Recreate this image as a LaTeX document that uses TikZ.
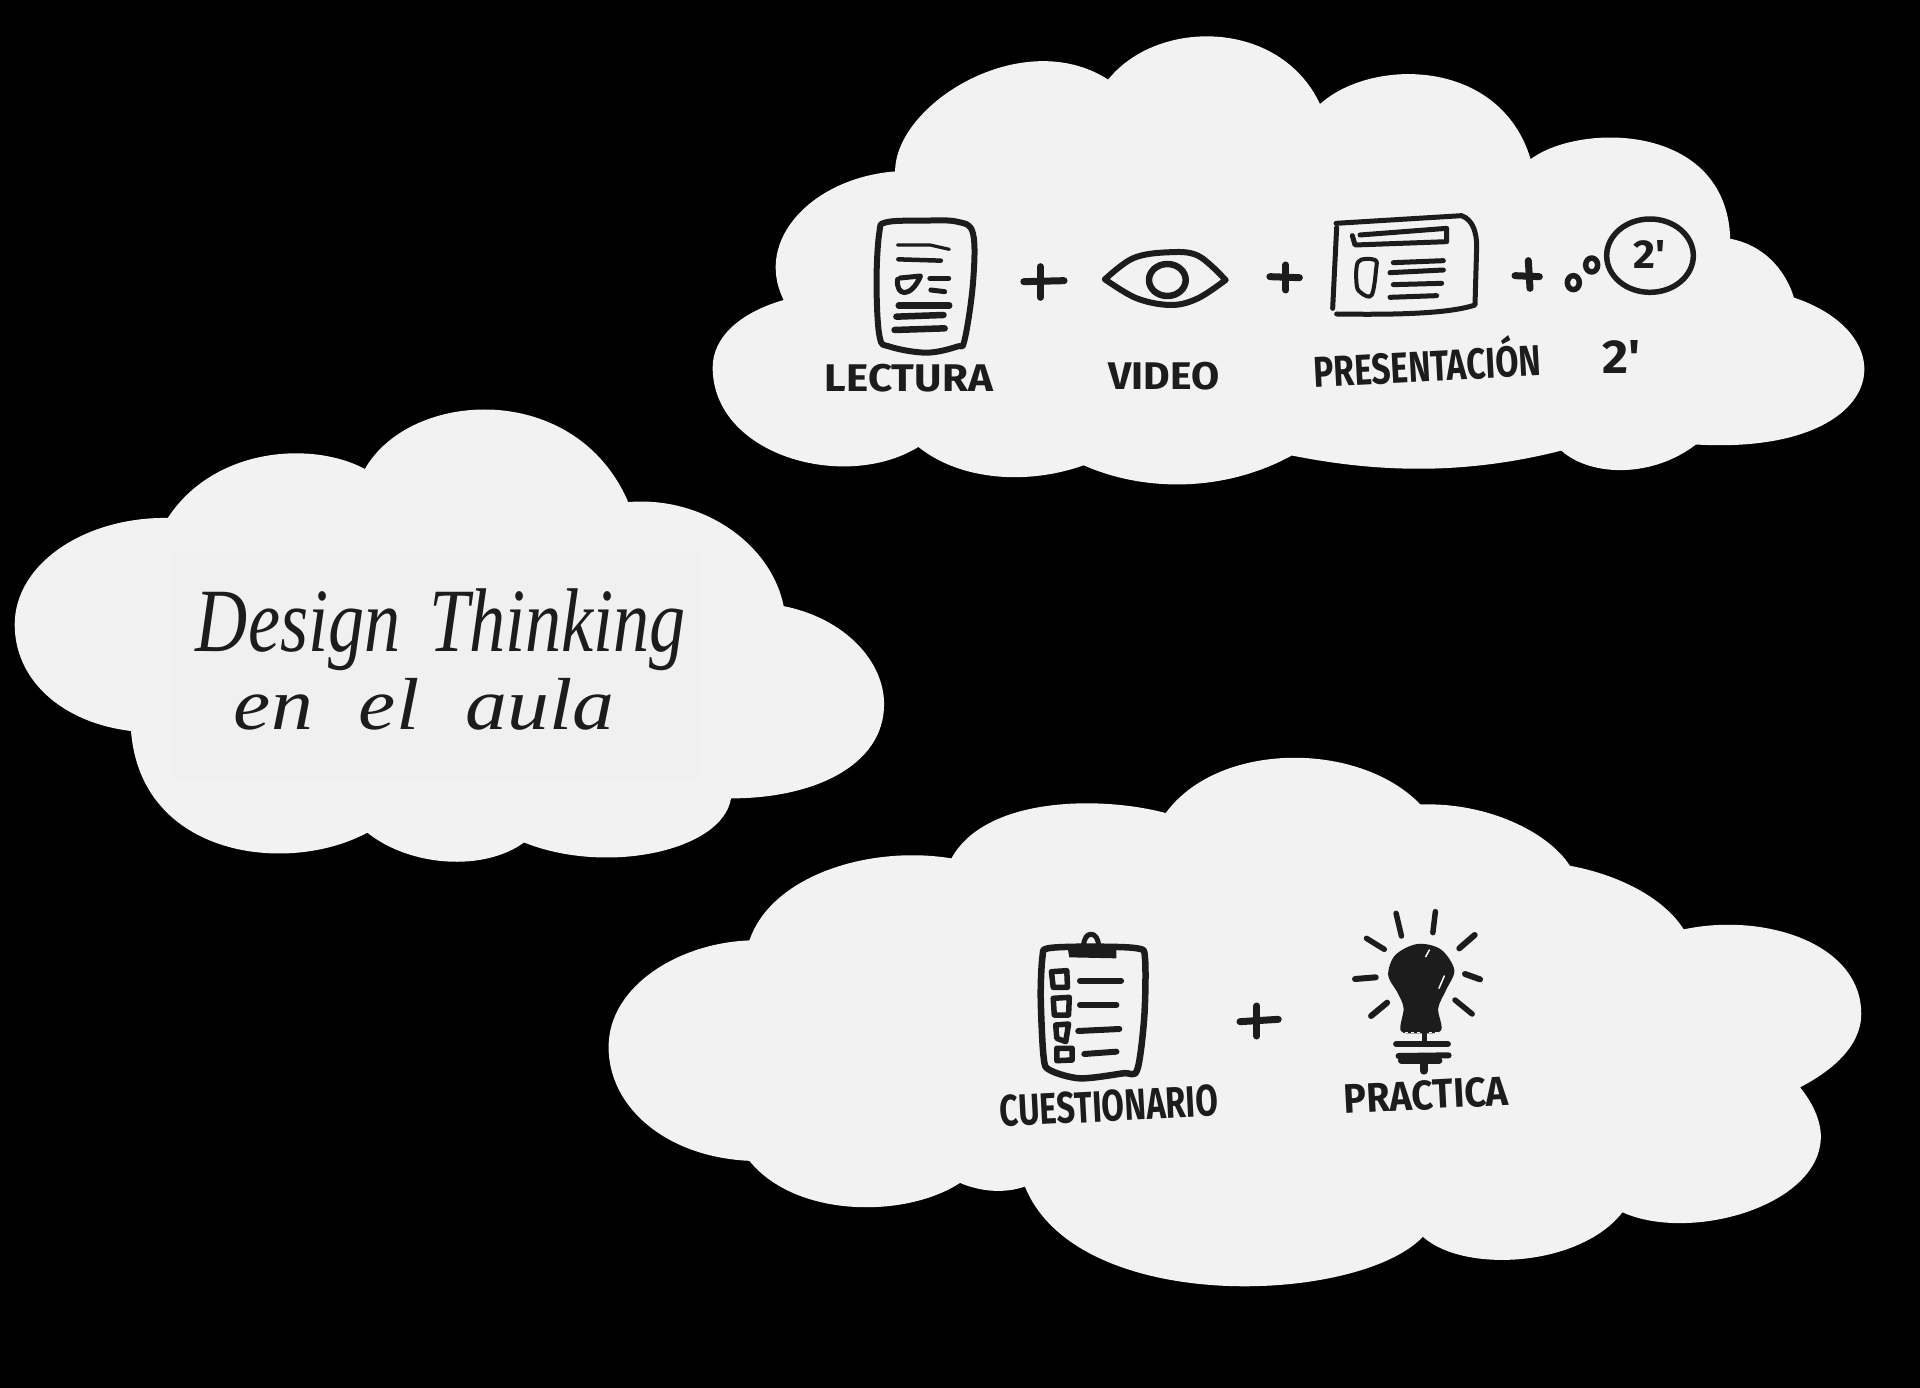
\documentclass[tikz,border=0pt]{standalone}
\usepackage{graphicx}
\usepackage{fontspec}
\newfontfamily\lblfont{Fira Sans}
\newfontfamily\handfont{Liberation Serif}
\definecolor{cloudc}{HTML}{F2F2F2}
\definecolor{patchc}{HTML}{F0F0F0}
\definecolor{ink}{HTML}{1C1C1C}
\newcommand{\fitbox}[3]{\resizebox*{#1pt}{#2pt}{#3}}
\tikzset{
  cloudshape/.style={fill=cloudc,draw=none},
  inkline/.style={draw=ink,line width=#1,line cap=round,line join=round},
  inkline/.default=5pt,
  lab/.style={text=ink,inner sep=0pt,outer sep=0pt,font=\lblfont\bfseries},
  hand/.style={text=ink,inner sep=0pt,outer sep=0pt,font=\handfont\itshape},
  zoomthree/.style={x=0.33333pt,y=-0.33333pt},
  zoomone/.style={x=0.38265pt,y=-0.33333pt},
  zoomfour/.style={x=0.35714pt,y=-0.33333pt},
  disp/.style={x=1.2245pt,y=-1.2245pt}
}
\begin{document}
\begin{tikzpicture}[x=1pt,y=-1pt]
\useasboundingbox (0,0) rectangle (1920,1388);
\fill[black] (0,0) rectangle (1920,1388);

\begin{scope}[disp]
% top right cloud
\fill[cloudshape] (731,140)
 .. controls (731,85) and (835,20) .. (905,65)
 .. controls (945,15) and (1045,15) .. (1078,85)
 .. controls (1120,47) and (1225,47) .. (1250,130)
 .. controls (1290,100) and (1410,100) .. (1413,195)
 .. controls (1440,200) and (1458,220) .. (1465,243)
 .. controls (1560,275) and (1540,372) .. (1385,363)
 .. controls (1350,390) and (1300,390) .. (1275,368)
 .. controls (1200,387) and (1130,387) .. (1055,372)
 .. controls (1000,402) and (935,402) .. (885,380)
 .. controls (840,396) and (785,393) .. (750,365)
 .. controls (690,402) and (582,372) .. (582,300)
 .. controls (582,275) and (605,255) .. (640,245)
 .. controls (615,195) and (665,145) .. (731,140)
 -- cycle;
% left cloud
\fill[cloudshape] (137,423)
 .. controls (175,365) and (255,360) .. (298,383)
 .. controls (335,318) and (470,310) .. (513,410)
 .. controls (575,405) and (630,445) .. (640,495)
 .. controls (690,505) and (722,540) .. (722,575)
 .. controls (722,625) and (665,652) .. (597,652)
 .. controls (590,695) and (495,715) .. (428,688)
 .. controls (395,712) and (335,708) .. (300,680)
 .. controls (235,715) and (115,700) .. (107,597)
 .. controls (50,590) and (12,555) .. (12,510)
 .. controls (12,460) and (70,422) .. (137,423)
 -- cycle;
% bottom cloud
\fill[cloudshape] (612,768)
 .. controls (630,715) and (710,690) .. (777,701)
 .. controls (805,650) and (900,650) .. (952,664)
 .. controls (995,605) and (1110,605) .. (1160,657)
 .. controls (1215,655) and (1265,680) .. (1282,707)
 .. controls (1325,715) and (1360,735) .. (1375,759)
 .. controls (1440,745) and (1520,770) .. (1520,828)
 .. controls (1520,855) and (1495,875) .. (1470,888)
 .. controls (1480,900) and (1487,915) .. (1487,928)
 .. controls (1487,985) and (1380,1015) .. (1325,990)
 .. controls (1290,1035) and (1195,1040) .. (1162,1010)
 .. controls (1110,1065) and (880,1075) .. (837,969)
 .. controls (820,975) and (800,973) .. (784,966)
 .. controls (740,995) and (650,995) .. (612,948)
 .. controls (545,945) and (497,905) .. (497,855)
 .. controls (497,805) and (555,770) .. (612,768)
 -- cycle;
\end{scope}

% patch behind the title
\fill[patchc] (172,553) rectangle (700,779);
\node[hand] (title1) at (441,630) {\fitbox{490}{82}{Design\hspace{.15em} Thinking}};
\node[hand] (title2) at (424,704) {\fitbox{380}{52}{en\hspace{.3em} el\hspace{.3em} aula}};

% top row: lecture and eye
\begin{scope}[shift={(800,190)},zoomone]
\draw[inkline=6pt] plot[smooth cycle,tension=0.6] coordinates {(225,97) (320,92) (410,95) (452,130) (452,280) (430,450) (410,470) (330,488) (235,470) (208,440) (200,280) (207,130)};
\draw[inkline=3.2pt] (255,165) -- (340,165) -- (390,178);
\draw[inkline=4.5pt] (257,208) -- (368,212);
\draw[inkline=5pt] (255,268) .. controls (250,320) and (290,325) .. (315,258) -- (262,264);
\draw[inkline=5.5pt] (340,265) -- (388,265);
\draw[inkline=5pt] (342,300) -- (378,305);
\draw[inkline=6.5pt] (258,347) -- (390,347);
\draw[inkline=6.5pt] (252,380) -- (375,375);
\draw[inkline=6.5pt] (247,420) -- (378,415);
\draw[inkline=7pt] (585,275) -- (690,272);
\draw[inkline=7pt] (628,230) -- (628,322);
\draw[inkline=6pt] plot[smooth,tension=0.6] coordinates {(797,268) (870,205) (960,187) (1040,197) (1112,270)};
\draw[inkline=6pt] plot[smooth,tension=0.6] coordinates {(1112,270) (1040,325) (970,345) (880,325) (797,268)};
\draw[inkline=6.5pt] (960,270) circle [radius=48];
\draw[inkline=7pt] (1228,260) -- (1305,263);
\draw[inkline=7pt] (1270,225) -- (1270,300);
\end{scope}

% top row: slide and thought
\begin{scope}[shift={(1300,190)},zoomthree]
\draw[inkline=5pt] (108,100) -- (485,77) .. controls (520,90) and (530,130) .. (530,170) -- (525,345) .. controls (450,370) and (300,375) .. (110,372);
\draw[inkline=5pt] (110,112) -- (98,355);
\draw[inkline=5pt] (180,135) -- (440,115) -- (440,155) -- (165,165) -- (157,137);
\draw[inkline=4pt] plot[smooth cycle,tension=0.6] coordinates {(175,215) (225,210) (228,240) (215,315) (185,310) (170,285)};
\draw[inkline=5pt] (280,218) -- (430,212);
\draw[inkline=5pt] (270,248) -- (430,240);
\draw[inkline=5pt] (280,284) -- (425,280);
\draw[inkline=5pt] (270,322) -- (410,317);
\draw[inkline=7pt] (645,257) -- (718,260);
\draw[inkline=7pt] (685,212) -- (690,295);
\draw[inkline=5.5pt] (820,278) ellipse [x radius=18, y radius=21];
\draw[inkline=5.5pt] (875,225) ellipse [x radius=18, y radius=21];
\draw[inkline=5.5pt] (1050,197) ellipse [x radius=130, y radius=110];
\node[lab] (twoa) at (1048,193) {\fitbox{32}{28}{2'}};
\end{scope}

% bottom row
\begin{scope}[shift={(980,900)},zoomfour]
\draw[inkline=6.5pt] plot[smooth cycle,tension=0.5] coordinates {(190,145) (300,140) (440,145) (462,175) (460,350) (440,510) (400,520) (280,535) (195,510) (178,470) (170,290) (175,170)};
\fill[ink] (245,140) -- (382,140) -- (382,175) -- (250,172) -- cycle;
\draw[inkline=5pt] (290,140) .. controls (290,90) and (332,90) .. (332,140);
\draw[inkline=5.5pt] (200,215) -- (243,212) -- (245,262) -- (205,262) -- cycle;
\draw[inkline=5.5pt] (205,295) -- (250,292) -- (248,345) -- (208,345) -- cycle;
\draw[inkline=5.5pt] (212,375) -- (248,372) -- (240,425) -- (215,415) -- cycle;
\draw[inkline=5.5pt] (215,445) -- (258,445) -- (258,480) -- (215,482) -- cycle;
\draw[inkline=6pt] (280,242) -- (395,242);
\draw[inkline=6pt] (280,315) -- (382,315);
\draw[inkline=6pt] (275,393) -- (390,387);
\draw[inkline=6pt] (292,462) -- (382,455);
\draw[inkline=7pt] (728,365) -- (835,358);
\draw[inkline=7pt] (775,318) -- (775,408);
% bulb
\fill[ink] plot[smooth cycle,tension=0.55] coordinates {(1225,132) (1290,148) (1328,210) (1305,270) (1283,325) (1290,392) (1225,400) (1178,392) (1186,325) (1170,280) (1143,225) (1163,165)};
\draw[white,line width=1.5pt,line cap=round] (1258,150) -- (1248,170);
\draw[white,line width=1.5pt,line cap=round] (1300,228) -- (1285,265);
\draw[cloudc,line width=1pt,dashed] (1190,396) -- (1285,396);
\draw[inkline=5pt] (1245,400) -- (1245,430);
\draw[inkline=6pt] (1165,432) -- (1310,432);
\draw[inkline=6pt] (1172,468) -- (1312,466);
\draw[inkline=7pt] (1180,482) -- (1285,482);
\draw[inkline=8pt] (1243,490) -- (1243,512);
% rays
\draw[inkline=5.5pt] (1165,40) -- (1180,108);
\draw[inkline=5.5pt] (1275,35) -- (1268,98);
\draw[inkline=6pt] (1385,105) -- (1342,145);
\draw[inkline=5.5pt] (1082,115) -- (1132,148);
\draw[inkline=6pt] (1050,237) -- (1108,232);
\draw[inkline=6pt] (1358,222) -- (1400,238);
\draw[inkline=6pt] (1095,348) -- (1140,308);
\draw[inkline=5.5pt] (1330,300) -- (1378,342);
\end{scope}

% labels
\node[lab] (lectura) at (909,378) {\fitbox{168}{28}{LECTURA}};
\node[lab] (video) at (1164,376) {\fitbox{111}{28}{VIDEO}};
\node[lab,rotate=3] (presentacion) at (1427,361) {\fitbox{228}{42}{PRESENTACIÓN}};
\node[lab] (twob) at (1621,357) {\fitbox{38}{33}{2'}};
\node[lab,rotate=3] (cuestionario) at (1109,1106) {\fitbox{218}{32}{CUESTIONARIO}};
\node[lab,rotate=3] (practica) at (1426,1095) {\fitbox{165}{30}{PRACTICA}};
\end{tikzpicture}
\end{document}
